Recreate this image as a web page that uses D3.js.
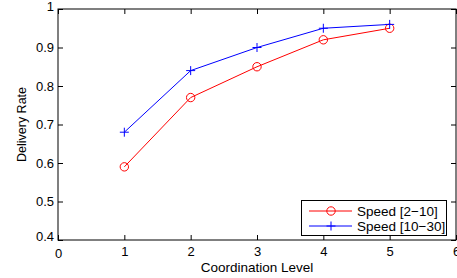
<!DOCTYPE html>
<html><head><meta charset="utf-8">
<script src="https://cdn.jsdelivr.net/npm/d3@7"></script>
<style>body{margin:0;background:#fff;} text{font-family:"Liberation Sans",Arial,sans-serif;}</style>
</head><body>
<svg id="c" width="457" height="278"></svg>
<script>
const levels = [1, 2, 3, 4, 5];
const speedLow = [0.59, 0.77, 0.85, 0.92, 0.95];
const speedHigh = [0.68, 0.84, 0.90, 0.95, 0.96];
const xTicks = [0, 1, 2, 3, 4, 5, 6];
const yTicks = [0.4, 0.5, 0.6, 0.7, 0.8, 0.9, 1];
const seriesNames = ["Speed [2\u221210]", "Speed [10\u221230]"];

const svg = d3.select("#c");
const L = 58, R = 456, T = 9, B = 240;
const x = d3.scaleLinear().domain([0, 6]).range([L, R]);
const y = d3.scaleLinear().domain([0.4, 1]).range([B, T]);
const fs = 13;

svg.append("rect").attr("x", L).attr("y", T).attr("width", R - L).attr("height", B - T)
  .attr("fill", "#fff").attr("stroke", "#000").attr("stroke-width", 1);

const fmtY = d => (d === 1 ? "1" : d3.format(".1f")(d));
const gx = svg.append("g").attr("transform", `translate(0,${B})`)
  .call(d3.axisBottom(x).tickValues(xTicks).tickSize(-5).tickPadding(8).tickFormat(d3.format("d")));
const gxt = svg.append("g").attr("transform", `translate(0,${T})`)
  .call(d3.axisTop(x).tickValues(xTicks).tickSize(-5).tickFormat(""));
const gy = svg.append("g").attr("transform", `translate(${L},0)`)
  .call(d3.axisLeft(y).tickValues(yTicks).tickSize(-5).tickPadding(4).tickFormat(fmtY));
const gyr = svg.append("g").attr("transform", `translate(${R},0)`)
  .call(d3.axisRight(y).tickValues(yTicks).tickSize(-5).tickFormat(""));
[gx, gxt, gy, gyr].forEach(g => {
  g.select(".domain").remove();
  g.selectAll("line").attr("stroke", "#000");
  g.selectAll("text").attr("font-size", fs).attr("fill", "#000")
    .attr("font-family", "'Liberation Sans',Arial,sans-serif");
});
gy.selectAll("text").attr("dy", "0.32em");
gy.selectAll(".tick").filter(d => d === 0.4).select("text").attr("dy", "0.0em");
gy.selectAll(".tick").filter(d => d === 1).select("text").attr("dy", "0.15em");
gx.selectAll("text").attr("dy", "0.62em");
gx.selectAll(".tick").filter(d => d === 0).select("text").attr("dy", "0.75em");

svg.append("text").attr("x", (L + R) / 2).attr("y", 272).attr("text-anchor", "middle")
  .attr("font-size", 13.5).text("Coordination Level");
svg.append("text").attr("transform", `translate(25.5,${124.5}) rotate(-90)`)
  .attr("text-anchor", "middle").attr("font-size", 12.5).text("Delivery Rate");

const line = d3.line().x((d, i) => x(levels[i])).y(d => y(d));
const colors = ["#ff0000", "#0000ff"];
[speedLow, speedHigh].forEach((s, k) => {
  svg.append("path").datum(s).attr("d", line).attr("fill", "none")
    .attr("stroke", colors[k]).attr("stroke-width", 1);
});
svg.selectAll(".mc").data(speedLow).enter().append("circle")
  .attr("cx", (d, i) => x(levels[i])).attr("cy", d => y(d)).attr("r", 4.2)
  .attr("fill", "none").attr("stroke", colors[0]).attr("stroke-width", 1);
const plus = (g, cx, cy, c) => {
  g.append("path").attr("d", `M${cx - 4.5},${cy}H${cx + 4.5}M${cx},${cy - 4.5}V${cy + 4.5}`)
    .attr("stroke", c).attr("stroke-width", 1).attr("fill", "none");
};
speedHigh.forEach((d, i) => plus(svg, x(levels[i]), y(d), colors[1]));

const lg = svg.append("g");
lg.append("rect").attr("x", 301.5).attr("y", 200.5).attr("width", 145).attr("height", 35)
  .attr("fill", "#fff").attr("stroke", "#000");
const rows = [211, 226];
rows.forEach((ry, k) => {
  lg.append("line").attr("x1", 309).attr("x2", 352).attr("y1", ry).attr("y2", ry)
    .attr("stroke", colors[k]);
  if (k === 0) lg.append("circle").attr("cx", 331).attr("cy", ry).attr("r", 4.2)
    .attr("fill", "none").attr("stroke", colors[0]);
  else plus(lg, 331, ry, colors[1]);
  lg.append("text").attr("x", 357).attr("y", ry).attr("dy", "0.36em")
    .attr("font-size", 13.5).text(seriesNames[k]);
});
</script>
</body></html>
